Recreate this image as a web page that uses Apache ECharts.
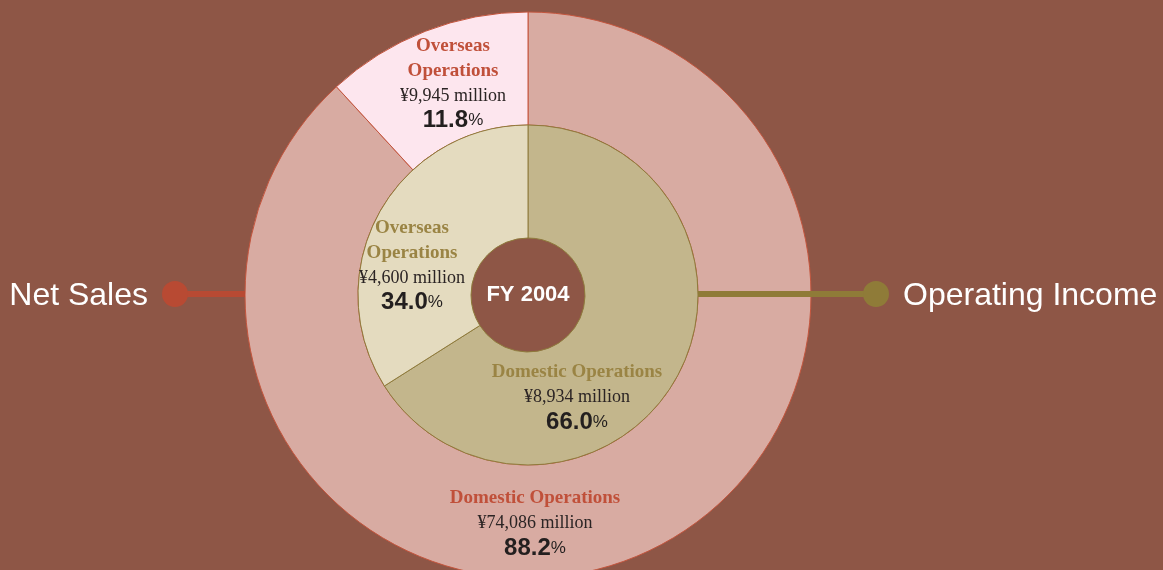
<!DOCTYPE html>
<html>
<head>
<meta charset="utf-8">
<script src="https://cdn.jsdelivr.net/npm/echarts@6/dist/echarts.min.js"></script>
<style>
  html, body { margin: 0; padding: 0; background: #8E5646; }
  #chart { width: 1163px; height: 570px; }
</style>
</head>
<body>
<div id="chart"></div>
<script>
// Segment data (¥ million), FY 2004
const segments = ['Domestic Operations', 'Overseas Operations'];
const segmentLabels = ['Domestic Operations', 'Overseas\nOperations'];
const netSales = [74086, 9945];
const operatingIncome = [8934, 4600];
const centerTitle = 'FY 2004';
const ringTitles = ['Net Sales', 'Operating Income'];

// Geometry and palette
const CX = 528, CY = 295;
const R_OUTER = 283, R_MID = 170, R_HOLE = 57;
const BG = '#8E5646';

// Label anchors, relative to the chart centre
const outerLabelPos = [[7, 228], [-75, -212]];
const innerLabelPos = [[49, 102], [-116, -30]];

function fmt(n) { return n.toLocaleString('en-US'); }

function makeData(values, colors) {
  const total = values.reduce((a, b) => a + b, 0);
  return values.map((v, i) => ({
    name: segments[i],
    value: v,
    pct: (v / total * 100).toFixed(1),
    label: segmentLabels[i],
    itemStyle: { color: colors[i] }
  }));
}

function richFor(titleColor) {
  return {
    t: { fontFamily: 'Liberation Serif', fontWeight: 'bold', fontSize: 19, color: titleColor, lineHeight: 25 },
    v: { fontFamily: 'Liberation Serif', fontSize: 18, color: '#2b2424', lineHeight: 25 },
    p: { fontFamily: 'Liberation Sans', fontWeight: 'bold', fontSize: 24, color: '#231f1f', lineHeight: 24 },
    s: { fontFamily: 'Liberation Sans', fontSize: 17, color: '#231f1f', lineHeight: 24 }
  };
}

function labelFormatter(p) {
  const d = p.data;
  const titleLines = d.label.split('\n').map(l => '{t|' + l + '}').join('\n');
  return titleLines + '\n{v|¥' + fmt(d.value) + ' million}\n{p|' + d.pct + '}{s|%}';
}

const outerData = makeData(netSales, ['#D8ABA2', '#FDE6EE']);
const innerData = makeData(operatingIncome, ['#C3B68C', '#E4DBBF']);

const chart = echarts.init(document.getElementById('chart'), null, { renderer: 'canvas' });

chart.setOption({
  backgroundColor: BG,
  animation: false,
  series: [
    {
      name: ringTitles[0],
      type: 'pie',
      center: [CX, CY],
      radius: [R_MID, R_OUTER],
      startAngle: 90,
      clockwise: true,
      silent: true,
      itemStyle: { borderColor: '#C4553D', borderWidth: 1 },
      label: {
        show: true,
        position: 'inside',
        align: 'center',
        verticalAlign: 'middle',
        formatter: labelFormatter,
        rich: richFor('#C0503A')
      },
      labelLine: { show: false },
      labelLayout: function (params) {
        const o = outerLabelPos[params.dataIndex];
        return { x: CX + o[0], y: CY + o[1], align: 'center', verticalAlign: 'middle' };
      },
      data: outerData
    },
    {
      name: ringTitles[1],
      type: 'pie',
      center: [CX, CY],
      radius: [R_HOLE, R_MID],
      startAngle: 90,
      clockwise: true,
      silent: true,
      itemStyle: { borderColor: '#8F7B3C', borderWidth: 1 },
      label: {
        show: true,
        position: 'inside',
        align: 'center',
        verticalAlign: 'middle',
        formatter: labelFormatter,
        rich: richFor('#9A8444')
      },
      labelLine: { show: false },
      labelLayout: function (params) {
        const o = innerLabelPos[params.dataIndex];
        return { x: CX + o[0], y: CY + o[1], align: 'center', verticalAlign: 'middle' };
      },
      data: innerData
    }
  ],
  graphic: [
    {
      type: 'text',
      x: CX, y: CY,
      z: 10,
      style: {
        text: centerTitle,
        fill: '#ffffff',
        font: 'bold 22px "Liberation Sans"',
        align: 'center',
        verticalAlign: 'middle'
      }
    },
    // Net Sales connector
    {
      type: 'line',
      z: 10,
      shape: { x1: 175, y1: CY - 1, x2: CX - R_OUTER, y2: CY - 1 },
      style: { stroke: '#B84A33', lineWidth: 6 }
    },
    {
      type: 'circle',
      z: 11,
      shape: { cx: 175, cy: CY - 1, r: 13 },
      style: { fill: '#B84A33' }
    },
    {
      type: 'text',
      x: 148, y: CY + 1,
      z: 11,
      style: {
        text: ringTitles[0],
        fill: '#ffffff',
        font: '32px "Liberation Sans"',
        align: 'right',
        verticalAlign: 'middle'
      }
    },
    // Operating Income connector
    {
      type: 'line',
      z: 10,
      shape: { x1: CX + R_MID, y1: CY - 1, x2: 876, y2: CY - 1 },
      style: { stroke: '#8F7B38', lineWidth: 6 }
    },
    {
      type: 'circle',
      z: 11,
      shape: { cx: 876, cy: CY - 1, r: 13 },
      style: { fill: '#8F7B38' }
    },
    {
      type: 'text',
      x: 903, y: CY + 1,
      z: 11,
      style: {
        text: ringTitles[1],
        fill: '#ffffff',
        font: '32px "Liberation Sans"',
        align: 'left',
        verticalAlign: 'middle'
      }
    }
  ]
});
</script>
</body>
</html>
